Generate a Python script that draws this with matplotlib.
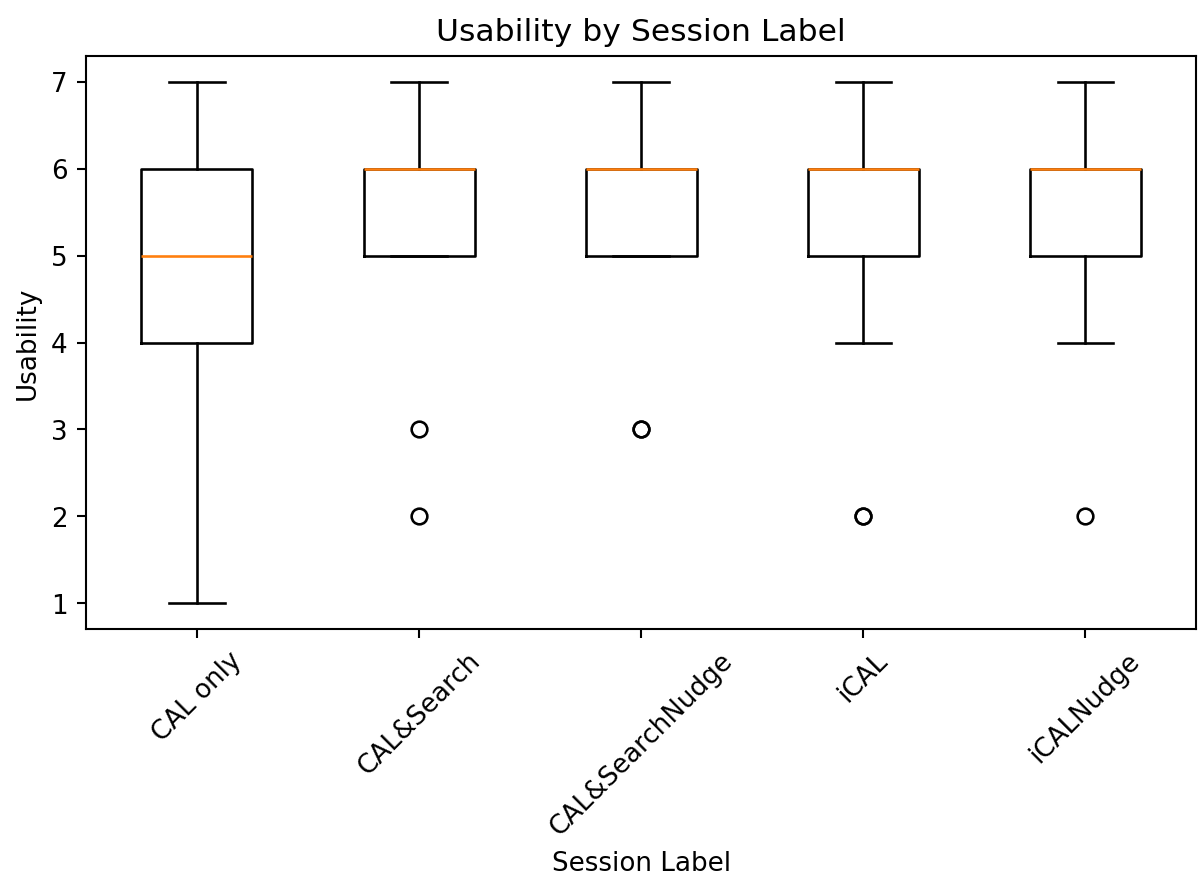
"""Usability by session label -- box plot from summary statistics."""

import matplotlib
matplotlib.use('Agg')
import matplotlib.pyplot as plt

labels = ['CAL only', 'CAL&Search', 'CAL&SearchNudge', 'iCAL', 'iCALNudge']
q1 = [4, 5, 5, 5, 5]
medians = [5, 6, 6, 6, 6]
q3 = [6, 6, 6, 6, 6]
whisker_low = [1, 5, 5, 4, 4]
whisker_high = [7, 7, 7, 7, 7]
outliers = [[], [3, 2], [3, 3], [2, 2], [2]]

stats = [
    {'label': lab, 'q1': a, 'med': m, 'q3': b, 'whislo': lo, 'whishi': hi, 'fliers': fl}
    for lab, a, m, b, lo, hi, fl in zip(labels, q1, medians, q3,
                                         whisker_low, whisker_high, outliers)
]

fig = plt.figure(figsize=(6.4, 4.72), dpi=188)
ax = fig.add_axes([0.0714, 0.2905, 0.923, 0.646])
ax.bxp(stats, showfliers=True)
ax.set_title('Usability by Session Label')
ax.set_xlabel('Session Label')
ax.set_ylabel('Usability')
ax.tick_params(axis='x', labelrotation=45)
fig.savefig('out.png', dpi=188)
plt.close(fig)
